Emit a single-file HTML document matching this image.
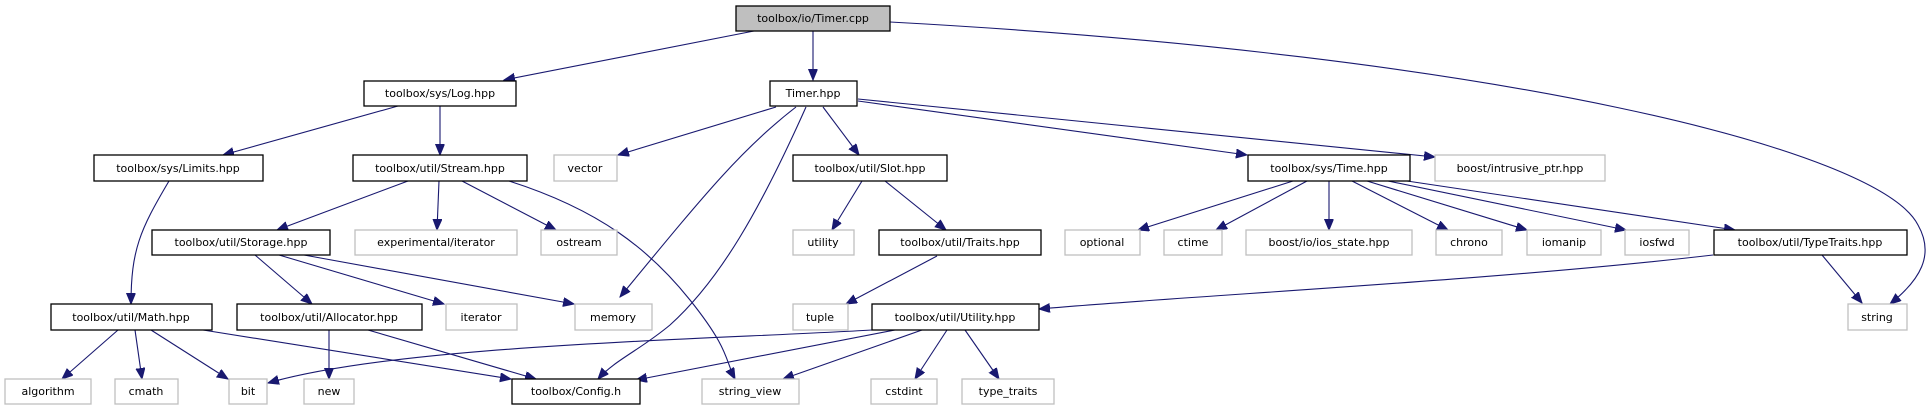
<!DOCTYPE html>
<html><head><meta charset="utf-8"><style>
html,body{margin:0;padding:0;background:#fff}
svg{display:block}
text{font-family:"DejaVu Sans","Liberation Sans",sans-serif;font-size:11px;fill:#000;text-anchor:middle}
.b{fill:#fff;stroke:#000;stroke-width:1.3}
.g{fill:#fff;stroke:#bfbfbf;stroke-width:1.3}
.e{fill:none;stroke:#191970;stroke-width:1.1;marker-end:url(#a)}
</style></head><body>
<svg width="1932" height="411" viewBox="0 0 1932 411" xmlns="http://www.w3.org/2000/svg">
<defs><marker id="a" markerUnits="userSpaceOnUse" markerWidth="12" markerHeight="10" refX="11" refY="4.5" orient="auto"><path d="M0,0 L11,4.5 L0,9 z" fill="#191970" stroke="#191970"/></marker></defs>
<g>
<path class="e" d="M754,31 L504,80"/>
<path class="e" d="M813,31 L813,80"/>
<path class="e" d="M890,22 C1500,55 1880,150 1918,225 C1935,255 1920,280 1890,304"/>
<path class="e" d="M398,106 L223,155"/>
<path class="e" d="M440,106 L440,155"/>
<path class="e" d="M169,181 C140,230 131,250 131,304"/>
<path class="e" d="M408,181 L277,230"/>
<path class="e" d="M439,181 L437,230"/>
<path class="e" d="M462,181 L556,230"/>
<path class="e" d="M509,181 C600,210 650,250 690,300 S725,360 735,379"/>
<path class="e" d="M255,255 L312,304"/>
<path class="e" d="M279,255 L444,304"/>
<path class="e" d="M304,255 L574,304"/>
<path class="e" d="M118,330 L62,379"/>
<path class="e" d="M135,330 L142,379"/>
<path class="e" d="M151,330 L228,379"/>
<path class="e" d="M203,330 L511,379"/>
<path class="e" d="M329,330 L329,379"/>
<path class="e" d="M368,330 L536,379"/>
<path class="e" d="M776,107 L618,155"/>
<path class="e" d="M796,107 C740,150 700,200 620,297"/>
<path class="e" d="M806,107 C760,210 720,280 670,325 C640,350 615,360 598,379"/>
<path class="e" d="M823,107 L859,155"/>
<path class="e" d="M858,101 L1247,155"/>
<path class="e" d="M858,99 L1435,157"/>
<path class="e" d="M862,181 L832,230"/>
<path class="e" d="M885,181 L946,230"/>
<path class="e" d="M937,256 L846,304"/>
<path class="e" d="M1293,181 L1138,230"/>
<path class="e" d="M1307,181 L1216,230"/>
<path class="e" d="M1329,181 L1329,230"/>
<path class="e" d="M1352,181 L1448,230"/>
<path class="e" d="M1367,181 L1527,230"/>
<path class="e" d="M1388,181 L1626,230"/>
<path class="e" d="M1407,181 L1735,230"/>
<path class="e" d="M1713,255 C1500,280 1200,295 1039,309"/>
<path class="e" d="M1822,255 L1862,303"/>
<path class="e" d="M872,330 C700,340 400,345 268,383"/>
<path class="e" d="M895,330 L636,380"/>
<path class="e" d="M922,330 L783,379"/>
<path class="e" d="M947,330 L915,379"/>
<path class="e" d="M965,330 L999,379"/>
</g>
<g>
<rect x="736" y="6" width="154" height="25" fill="#bfbfbf" stroke="#000" stroke-width="1.3"/><text x="813" y="22">toolbox/io/Timer.cpp</text>
<rect class="b" x="364" y="81" width="152" height="25"/><text x="440" y="97">toolbox/sys/Log.hpp</text>
<rect class="b" x="770" y="81" width="87" height="25"/><text x="813" y="97">Timer.hpp</text>
<rect class="b" x="94" y="155" width="169" height="26"/><text x="178" y="172">toolbox/sys/Limits.hpp</text>
<rect class="b" x="353" y="155" width="174" height="26"/><text x="440" y="172">toolbox/util/Stream.hpp</text>
<rect class="g" x="554" y="155" width="63" height="26"/><text x="585" y="172">vector</text>
<rect class="b" x="793" y="155" width="154" height="26"/><text x="870" y="172">toolbox/util/Slot.hpp</text>
<rect class="b" x="1248" y="155" width="162" height="26"/><text x="1329" y="172">toolbox/sys/Time.hpp</text>
<rect class="g" x="1435" y="155" width="170" height="26"/><text x="1520" y="172">boost/intrusive_ptr.hpp</text>
<rect class="b" x="152" y="230" width="178" height="25"/><text x="241" y="246">toolbox/util/Storage.hpp</text>
<rect class="g" x="355" y="230" width="162" height="25"/><text x="436" y="246">experimental/iterator</text>
<rect class="g" x="541" y="230" width="76" height="25"/><text x="579" y="246">ostream</text>
<rect class="g" x="793" y="230" width="61" height="25"/><text x="823" y="246">utility</text>
<rect class="b" x="879" y="230" width="162" height="25"/><text x="960" y="246">toolbox/util/Traits.hpp</text>
<rect class="g" x="1065" y="230" width="75" height="25"/><text x="1102" y="246">optional</text>
<rect class="g" x="1164" y="230" width="58" height="25"/><text x="1193" y="246">ctime</text>
<rect class="g" x="1246" y="230" width="166" height="25"/><text x="1329" y="246">boost/io/ios_state.hpp</text>
<rect class="g" x="1436" y="230" width="66" height="25"/><text x="1469" y="246">chrono</text>
<rect class="g" x="1527" y="230" width="74" height="25"/><text x="1564" y="246">iomanip</text>
<rect class="g" x="1625" y="230" width="64" height="25"/><text x="1657" y="246">iosfwd</text>
<rect class="b" x="1714" y="230" width="193" height="25"/><text x="1810" y="246">toolbox/util/TypeTraits.hpp</text>
<rect class="b" x="51" y="304" width="161" height="26"/><text x="131" y="321">toolbox/util/Math.hpp</text>
<rect class="b" x="237" y="304" width="185" height="26"/><text x="329" y="321">toolbox/util/Allocator.hpp</text>
<rect class="g" x="446" y="304" width="71" height="26"/><text x="481" y="321">iterator</text>
<rect class="g" x="575" y="304" width="77" height="26"/><text x="613" y="321">memory</text>
<rect class="g" x="793" y="304" width="55" height="26"/><text x="820" y="321">tuple</text>
<rect class="b" x="872" y="304" width="167" height="26"/><text x="955" y="321">toolbox/util/Utility.hpp</text>
<rect class="g" x="1848" y="304" width="59" height="26"/><text x="1877" y="321">string</text>
<rect class="g" x="5" y="379" width="86" height="25"/><text x="48" y="395">algorithm</text>
<rect class="g" x="115" y="379" width="63" height="25"/><text x="146" y="395">cmath</text>
<rect class="g" x="229" y="379" width="38" height="25"/><text x="248" y="395">bit</text>
<rect class="g" x="304" y="379" width="50" height="25"/><text x="329" y="395">new</text>
<rect class="b" x="512" y="379" width="128" height="25"/><text x="576" y="395">toolbox/Config.h</text>
<rect class="g" x="702" y="379" width="97" height="25"/><text x="750" y="395">string_view</text>
<rect class="g" x="871" y="379" width="66" height="25"/><text x="904" y="395">cstdint</text>
<rect class="g" x="962" y="379" width="92" height="25"/><text x="1008" y="395">type_traits</text>
</g>
</svg>
</body></html>
